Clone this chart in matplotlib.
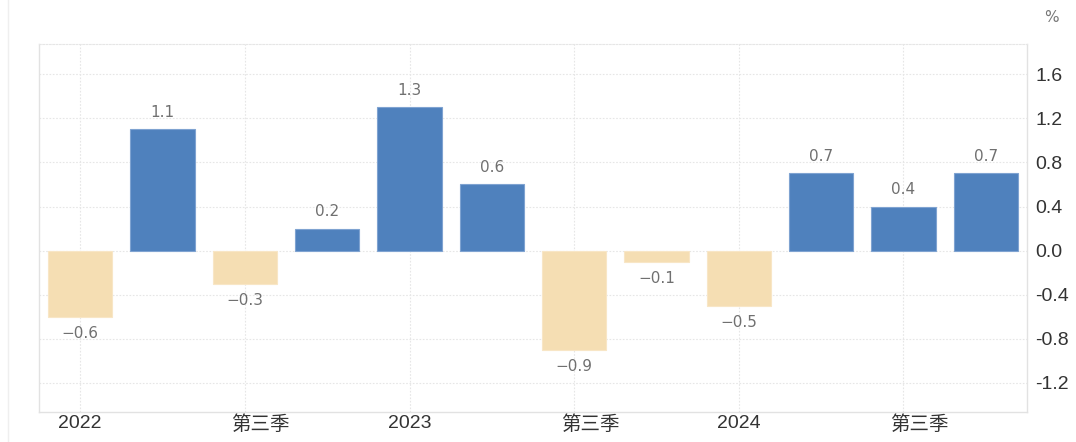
import matplotlib
matplotlib.use("Agg")
import matplotlib.pyplot as plt
import matplotlib.transforms as mtransforms
from matplotlib.lines import Line2D

plt.rcParams['font.family'] = ['Liberation Sans', 'Noto Sans CJK SC', 'DejaVu Sans']

quarters = ["2022 Q1", "2022 Q2", "2022 Q3", "2022 Q4",
            "2023 Q1", "2023 Q2", "2023 Q3", "2023 Q4",
            "2024 Q1", "2024 Q2", "2024 Q3", "2024 Q4"]
values = [-0.6, 1.1, -0.3, 0.2, 1.3, 0.6, -0.9, -0.1, -0.5, 0.7, 0.4, 0.7]
value_labels = ["−0.6", "1.1", "−0.3", "0.2", "1.3", "0.6", "−0.9", "−0.1", "−0.5", "0.7", "0.4", "0.7"]
xtick_pos = [0, 2, 4, 6, 8, 10]
xtick_labels = ["2022", "第三季", "2023", "第三季", "2024", "第三季"]
yticks = [-1.2, -0.8, -0.4, 0.0, 0.4, 0.8, 1.2, 1.6]

W, H = 1076, 442
fig = plt.figure(figsize=(W / 100, H / 100), dpi=100)
ax = fig.add_axes([39 / W, 1 - 412 / H, (1027 - 39) / W, (412 - 44) / H])

pos_color = "#4F81BD"
neg_color = "#F5DEB3"
colors = [pos_color if v >= 0 else neg_color for v in values]
edges = ["#7FA3D1" if v >= 0 else "#F8E6C6" for v in values]
x = list(range(len(values)))
ax.bar(x, values, width=0.78, color=colors, edgecolor=edges, linewidth=0.8, zorder=3)

ax.set_xlim(-0.5, 11.5)
ax.set_ylim(-1.465, 1.875)

for xi, v, lab in zip(x, values, value_labels):
    if v >= 0:
        ax.annotate(lab, (xi, v), xytext=(0, 7), textcoords="offset points",
                    ha="center", va="bottom", fontsize=11, color="#707070",
                    family="DejaVu Sans")
    else:
        ax.annotate(lab, (xi, v), xytext=(0, -7), textcoords="offset points",
                    ha="center", va="top", fontsize=11, color="#707070",
                    family="DejaVu Sans")

ax.yaxis.tick_right()
ax.set_yticks(yticks)
ax.set_yticklabels([f"{t:.1f}" for t in yticks], fontsize=14, color="#333333")
ax.tick_params(axis="y", length=0, pad=6)
ax.set_xticks(xtick_pos)
ax.set_xticklabels(xtick_labels, fontsize=14, color="#333333")
ax.tick_params(axis="x", length=0, pad=2)
for lbl, t in zip(ax.get_xticklabels(), xtick_labels):
    if t == "第三季":
        lbl.set_fontsize(14)
        off = mtransforms.ScaledTranslation(16 / 100, 0, fig.dpi_scale_trans)
        lbl.set_transform(lbl.get_transform() + off)

ax.grid(True, color="#e6e6e6", linestyle=(0, (1.5, 1.5)), linewidth=0.8, zorder=0)

for side in ["left", "bottom", "right"]:
    ax.spines[side].set_color("#e2e2e2")
    ax.spines[side].set_linewidth(1.0)
ax.spines["top"].set_color("#e6e6e6")
ax.spines["top"].set_linestyle((0, (1.5, 1.5)))
ax.spines["top"].set_linewidth(0.8)

fig.text(1051 / W, 1 - 18 / H, "%", ha="center", va="center", fontsize=11,
         color="#777777", family="DejaVu Sans")
fig.add_artist(Line2D([8 / W, 8 / W], [0, 1], color="#efefef", linewidth=1))

fig.savefig("out.png", dpi=100)
